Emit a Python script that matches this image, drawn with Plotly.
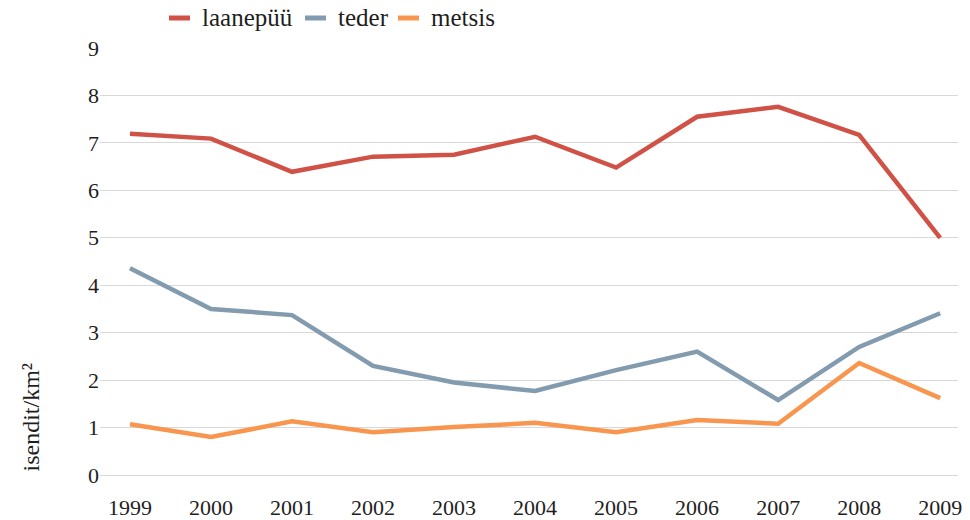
import plotly.graph_objects as go

years = [1999, 2000, 2001, 2002, 2003, 2004, 2005, 2006, 2007, 2008, 2009]
laanepyy = [7.19, 7.09, 6.39, 6.71, 6.75, 7.13, 6.48, 7.55, 7.76, 7.17, 5.00]
teder = [4.36, 3.50, 3.37, 2.30, 1.95, 1.77, 2.21, 2.60, 1.58, 2.70, 3.41]
metsis = [1.07, 0.80, 1.13, 0.90, 1.01, 1.10, 0.90, 1.16, 1.08, 2.36, 1.62]

series = [
    ("laanepüü", laanepyy, "#D05247"),
    ("teder", teder, "#839BAE"),
    ("metsis", metsis, "#F8964F"),
]

FONT = "Liberation Serif, Times New Roman, serif"
TEXT = "#1e1e1e"

W, H = 970, 520
ML, MR, MT, MB = 100, 12, 48, 45
PW, PH = W - ML - MR, H - MT - MB


def px_x(px):
    return (px - ML) / PW


def px_y(py):
    return (H - MB - py) / PH


fig = go.Figure()
for name, vals, color in series:
    fig.add_trace(go.Scatter(
        x=years, y=vals, name=name, mode="lines",
        line=dict(color=color, width=4.5),
        showlegend=False,
    ))

# legend row drawn as short swatches + labels above the plot
legend_swatch_left = [169, 305, 398]
shapes, annotations = [], []
for (name, _, color), sx in zip(series, legend_swatch_left):
    shapes.append(dict(
        type="line", xref="paper", yref="paper",
        x0=px_x(sx), x1=px_x(sx + 21), y0=px_y(18), y1=px_y(18),
        line=dict(color=color, width=5),
    ))
    annotations.append(dict(
        text=name, showarrow=False, xref="paper", yref="paper",
        x=px_x(sx + 31), y=px_y(18), xanchor="left", yanchor="middle",
        font=dict(family=FONT, size=25, color=TEXT),
    ))

annotations.append(dict(
    text="isendit/km²", textangle=-90, showarrow=False,
    xref="paper", yref="paper", x=px_x(30), y=px_y(474),
    xanchor="center", yanchor="bottom",
    font=dict(family=FONT, size=24, color=TEXT),
))

fig.update_layout(
    width=W, height=H,
    paper_bgcolor="white", plot_bgcolor="white",
    margin=dict(l=ML, r=MR, t=MT, b=MB, autoexpand=False),
    font=dict(family=FONT, size=22, color=TEXT),
    showlegend=False,
    xaxis=dict(
        range=[1998.63, 2009.22], tickmode="array", tickvals=years,
        ticktext=[str(y) for y in years],
        showgrid=False, zeroline=False, showline=False,
        ticks="outside", ticklen=13, tickcolor="rgba(0,0,0,0)",
        tickfont=dict(family=FONT, size=22, color=TEXT),
        automargin=False,
    ),
    yaxis=dict(
        range=[0, 9], tickmode="linear", dtick=1, tick0=0,
        showgrid=True, gridcolor="#d9d9d9", gridwidth=1,
        zeroline=True, zerolinecolor="#d9d9d9", zerolinewidth=1,
        showline=False, ticks="",
        tickfont=dict(family=FONT, size=22, color=TEXT),
        automargin=False,
    ),
    shapes=shapes,
    annotations=annotations,
)

fig.write_html("out.html")
